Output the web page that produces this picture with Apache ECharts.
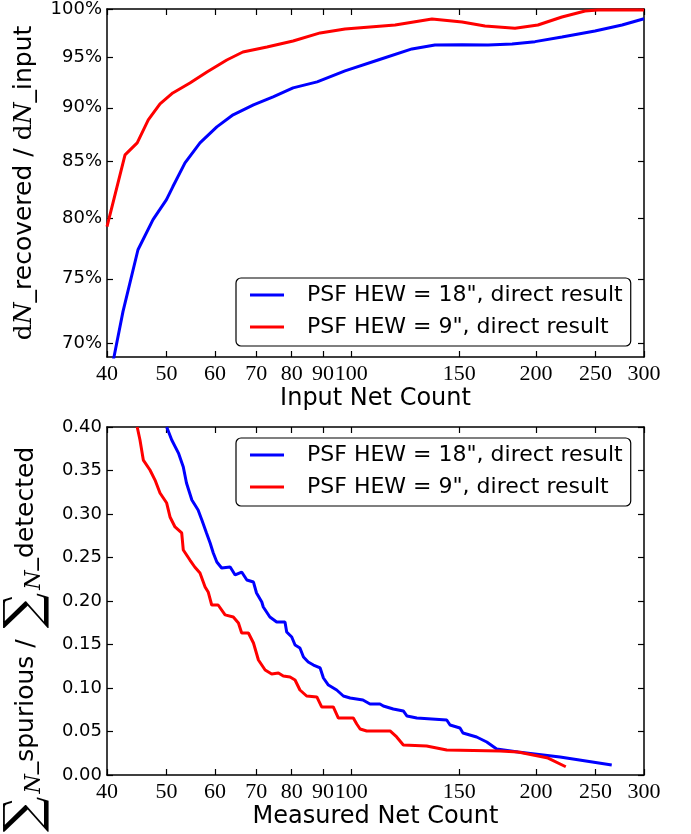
<!DOCTYPE html>
<html>
<head>
<meta charset="utf-8">
<script src="https://cdn.jsdelivr.net/npm/echarts@6.0.0/dist/echarts.min.js"></script>
<style>
html,body{margin:0;padding:0;background:#fff;}
#chart{width:691px;height:834px;}
</style>
</head>
<body>
<div id="chart"></div>
<script>
// ---- data ----
const xTicks = [40, 50, 60, 70, 80, 90, 100, 150, 200, 250, 300];
const yTicksTop = [0.70, 0.75, 0.80, 0.85, 0.90, 0.95, 1.00];
const yTicksBottom = [0, 0.05, 0.10, 0.15, 0.20, 0.25, 0.30, 0.35, 0.40];

const seriesNames = ['PSF HEW = 18", direct result', 'PSF HEW = 9", direct result'];

// top panel: recovered fraction vs input net count
const topBlueX = [40, 41.06, 42.47, 44.93, 47.54, 50.0, 51.2, 53.6, 56.7, 60.4, 64.2, 69.3, 74.6, 80.4, 88.0, 97.7, 110.6, 125.6, 136.9, 151.6, 167.1, 182.9, 199.3, 220.5, 249.6, 276.3, 300];
const topBlueY = [0.665, 0.690, 0.7242, 0.7736, 0.7988, 0.816, 0.8273, 0.8487, 0.867, 0.8819, 0.8933, 0.9028, 0.9105, 0.9193, 0.9252, 0.9361, 0.9471, 0.9583, 0.9624, 0.9627, 0.9624, 0.9634, 0.9658, 0.9706, 0.9768, 0.9831, 0.9897];
const topRedX = [40, 42.8, 44.8, 46.7, 48.8, 51.2, 54.6, 58.2, 62.7, 66.6, 72.9, 80.4, 89.0, 97.7, 117.9, 135.4, 151.6, 165.2, 184.9, 201.5, 220.5, 240.5, 252.4, 300];
const topRedY = [0.793, 0.856, 0.867, 0.8885, 0.9038, 0.9144, 0.9242, 0.9351, 0.9471, 0.9552, 0.9603, 0.9665, 0.9748, 0.9789, 0.9831, 0.9894, 0.9862, 0.982, 0.9797, 0.9831, 0.9915, 0.9979, 0.999, 0.999];

// bottom panel: spurious fraction vs measured net count
const botBlueX = [50.04, 51.0, 52.3, 53.26, 53.9, 55.0, 56.3, 57.1, 58.1, 58.9, 59.6, 60.4, 61.5, 63.5, 64.7, 66.3, 67.6, 69.3, 70.1, 71.5, 71.9, 73.7, 75.6, 78.0, 78.5, 80.0, 81.0, 82.5, 83.6, 85.1, 86.8, 89.0, 90.1, 91.8, 94.7, 97.1, 99.6, 104.5, 107.3, 111.4, 112.8, 117.1, 121.6, 123.3, 127.9, 143.1, 144.9, 150.4, 152.1, 160.1, 166.3, 172.6, 187.0, 218.9, 265.8];
const botBlueY = [0.400, 0.385, 0.370, 0.354, 0.3356, 0.3161, 0.3046, 0.2931, 0.2782, 0.2667, 0.2552, 0.2448, 0.2379, 0.2391, 0.2299, 0.2333, 0.2241, 0.2218, 0.2092, 0.1989, 0.1931, 0.1816, 0.1759, 0.1759, 0.1644, 0.1586, 0.1494, 0.146, 0.1356, 0.1299, 0.1264, 0.123, 0.1115, 0.1034, 0.0977, 0.0908, 0.0885, 0.0862, 0.0816, 0.0816, 0.0793, 0.0759, 0.0736, 0.0678, 0.0655, 0.0632, 0.0575, 0.054, 0.0483, 0.0437, 0.0379, 0.0299, 0.0264, 0.0207, 0.0115];
const botRedX = [44.8, 45.27, 45.84, 47.0, 47.9, 48.8, 50.04, 50.67, 51.63, 52.94, 53.26, 54.6, 55.6, 56.7, 57.8, 58.5, 59.25, 60.7, 62.3, 64.25, 65.5, 66.3, 68.0, 69.3, 70.6, 72.4, 74.2, 76.1, 77.5, 79.5, 81.0, 82.5, 84.6, 87.9, 89.5, 93.5, 95.3, 100.8, 102.1, 103.4, 106.0, 115.7, 118.6, 121.6, 132.7, 143.1, 174.8, 187.0, 209.3, 223.7];
const botRedY = [0.400, 0.385, 0.362, 0.3506, 0.339, 0.3241, 0.3126, 0.2966, 0.2851, 0.2782, 0.2586, 0.2471, 0.2391, 0.2322, 0.2161, 0.21, 0.1954, 0.1954, 0.184, 0.1816, 0.1747, 0.1632, 0.1632, 0.1517, 0.1322, 0.1207, 0.1161, 0.1172, 0.1138, 0.1126, 0.1092, 0.0977, 0.0908, 0.0897, 0.0782, 0.0782, 0.0655, 0.0655, 0.0586, 0.0529, 0.0506, 0.0506, 0.0437, 0.0345, 0.0333, 0.0287, 0.0276, 0.0264, 0.0195, 0.0095];

// ---- build ----
const zip = (xs, ys) => xs.map((x, i) => [x, ys[i]]);
const BLACK = '#000';
const SANS = 'DejaVu Sans';
const SERIF = 'Liberation Serif';

function xAxisDef(gridIndex, position, showLabel, name) {
  return {
    type: 'log', logBase: 10, gridIndex, position, min: 40, max: 300,
    axisLine: { show: true, onZero: false, lineStyle: { color: BLACK, width: 1.5 } },
    axisTick: { show: true, inside: true, length: 6, customValues: xTicks, lineStyle: { color: BLACK, width: 1.2 } },
    minorTick: { show: false },
    splitLine: { show: false },
    axisLabel: { show: showLabel, customValues: xTicks, margin: 6, color: BLACK, fontFamily: SERIF, fontSize: 22, hideOverlap: false },
    name: name || '', nameLocation: 'middle', nameGap: 30,
    nameTextStyle: { color: BLACK, fontFamily: SANS, fontSize: 24 }
  };
}

const yNameRichTop = {
  d: { fontFamily: 'DejaVu Serif', fontSize: 25, color: BLACK },
  i: { fontFamily: 'DejaVu Serif', fontStyle: 'italic', fontSize: 25, color: BLACK }
};
const yNameRichBot = {
  s: { fontFamily: 'DejaVu Serif', fontSize: 50, color: BLACK, padding: [0, 3, 0, 3] },
  i: { fontFamily: 'DejaVu Serif', fontStyle: 'italic', fontSize: 22, color: BLACK, verticalAlign: 'bottom', padding: [0, 0, 6, 0] }
};

const option = {
  backgroundColor: '#fff',
  animation: false,
  grid: [
    { left: 107, top: 9, width: 537, height: 348, show: false, outerBoundsMode: 'none', containLabel: false },
    { left: 107, top: 427, width: 537, height: 348, show: false, outerBoundsMode: 'none', containLabel: false }
  ],
  xAxis: [
    xAxisDef(0, 'bottom', true, 'Input Net Count'),
    xAxisDef(0, 'top', false, ''),
    xAxisDef(1, 'bottom', true, 'Measured Net Count'),
    xAxisDef(1, 'top', false, '')
  ],
  yAxis: [
    {
      type: 'log', logBase: 10, gridIndex: 0, position: 'left', min: 0.69, max: 1.0,
      axisLine: { show: true, onZero: false, lineStyle: { color: BLACK, width: 1.5 } },
      axisTick: { show: true, inside: true, length: 6, customValues: yTicksTop, lineStyle: { color: BLACK, width: 1.2 } },
      minorTick: { show: false }, splitLine: { show: false },
      axisLabel: { customValues: yTicksTop, margin: 5, color: BLACK, fontFamily: SANS, fontSize: 18,
        formatter: v => Math.round(v * 100) + '%' },
      name: '{d|d}{i|N}_recovered / {d|d}{i|N}_input', nameLocation: 'middle', nameGap: 70,
      nameTextStyle: { color: BLACK, fontFamily: SANS, fontSize: 25, rich: yNameRichTop }
    },
    {
      type: 'log', logBase: 10, gridIndex: 0, position: 'right', min: 0.69, max: 1.0,
      axisLine: { show: true, onZero: false, lineStyle: { color: BLACK, width: 1.5 } },
      axisTick: { show: true, inside: true, length: 6, customValues: yTicksTop, lineStyle: { color: BLACK, width: 1.2 } },
      minorTick: { show: false }, splitLine: { show: false },
      axisLabel: { show: false }
    },
    {
      type: 'value', gridIndex: 1, position: 'left', min: 0, max: 0.4, interval: 0.05,
      axisLine: { show: true, onZero: false, lineStyle: { color: BLACK, width: 1.5 } },
      axisTick: { show: true, inside: true, length: 6, lineStyle: { color: BLACK, width: 1.2 } },
      splitLine: { show: false },
      axisLabel: { margin: 5, color: BLACK, fontFamily: SANS, fontSize: 18, formatter: v => v.toFixed(2) },
      name: '{s|∑}{i|N}_spurious / {s|∑}{i|N}_detected', nameLocation: 'middle', nameGap: 49,
      nameTextStyle: { color: BLACK, fontFamily: SANS, fontSize: 25, rich: yNameRichBot, padding: [0, 80, 0, 0] }
    },
    {
      type: 'value', gridIndex: 1, position: 'right', min: 0, max: 0.4, interval: 0.05,
      axisLine: { show: true, onZero: false, lineStyle: { color: BLACK, width: 1.5 } },
      axisTick: { show: true, inside: true, length: 6, lineStyle: { color: BLACK, width: 1.2 } },
      splitLine: { show: false },
      axisLabel: { show: false }
    }
  ],
  legend: [0, 1].map(g => ({
    left: 236, top: g === 0 ? 278 : 438, orient: 'vertical',
    borderColor: BLACK, borderWidth: 1.2, borderRadius: 5, backgroundColor: '#fff',
    padding: [6, 8, 8, 14], itemGap: 10, itemWidth: 34, itemHeight: 3, icon: 'rect',
    textStyle: { color: BLACK, fontFamily: SANS, fontSize: 22, padding: [0, 0, 0, 18] },
    data: seriesNames
  })),
  series: [
    { name: seriesNames[0], type: 'line', xAxisIndex: 0, yAxisIndex: 0, data: zip(topBlueX, topBlueY),
      showSymbol: false, symbol: 'none', lineStyle: { color: '#0000ff', width: 3 }, itemStyle: { color: '#0000ff' } },
    { name: seriesNames[1], type: 'line', xAxisIndex: 0, yAxisIndex: 0, data: zip(topRedX, topRedY),
      showSymbol: false, symbol: 'none', lineStyle: { color: '#ff0000', width: 3 }, itemStyle: { color: '#ff0000' } },
    { name: seriesNames[0], type: 'line', xAxisIndex: 2, yAxisIndex: 2, data: zip(botBlueX, botBlueY),
      showSymbol: false, symbol: 'none', lineStyle: { color: '#0000ff', width: 3 }, itemStyle: { color: '#0000ff' } },
    { name: seriesNames[1], type: 'line', xAxisIndex: 2, yAxisIndex: 2, data: zip(botRedX, botRedY),
      showSymbol: false, symbol: 'none', lineStyle: { color: '#ff0000', width: 3 }, itemStyle: { color: '#ff0000' } }
  ]
};

const chart = echarts.init(document.getElementById('chart'), null, { renderer: 'canvas' });
chart.setOption(option);
</script>
</body>
</html>
